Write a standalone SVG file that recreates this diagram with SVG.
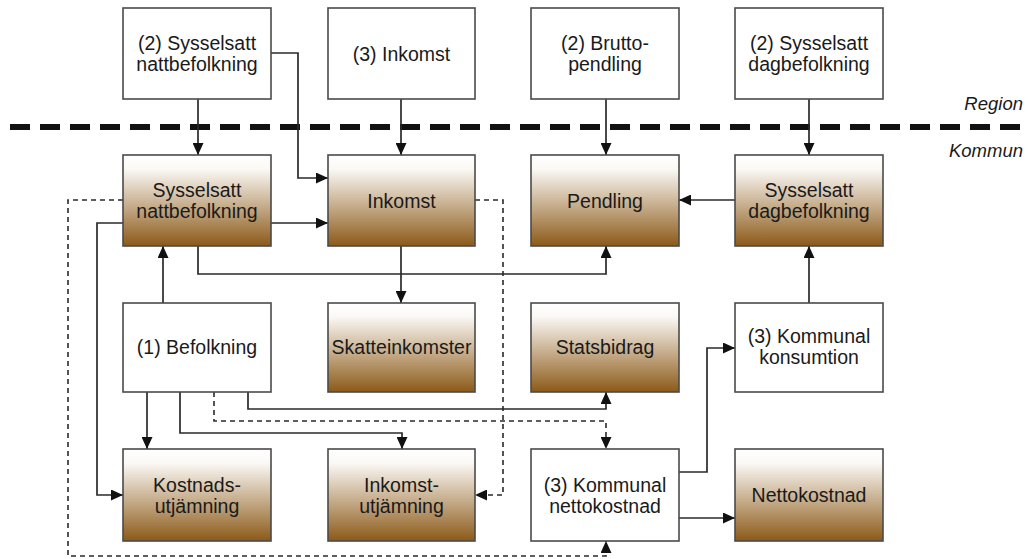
<svg xmlns="http://www.w3.org/2000/svg" width="1030" height="559" viewBox="0 0 1030 559">
  <style>
    .box { stroke: #4a4a4a; stroke-width: 1.6; }
    .plain { fill: #ffffff; }
    .shaded { fill: url(#brown); }
    .lbl { font-family: "Liberation Sans", Arial, sans-serif; font-size: 19.5px; fill: #1a1a1a; text-anchor: middle; }
    .zone { font-family: "Liberation Sans", Arial, sans-serif; font-size: 18.5px; font-style: italic; fill: #1a1a1a; text-anchor: end; }
    .link { fill: none; stroke: #2a2a2a; stroke-width: 1.7; marker-end: url(#head); }
    .dash { fill: none; stroke: #2a2a2a; stroke-width: 1.6; stroke-dasharray: 5 4; }
    .dash.arr { marker-end: url(#head); }
  </style>
  <defs>
    <linearGradient id="brown" x1="0" y1="0" x2="0" y2="1">
      <stop offset="0" stop-color="#ffffff"/>
      <stop offset="0.15" stop-color="#fbf9f6"/>
      <stop offset="1" stop-color="#8c5a19"/>
    </linearGradient>
    <marker id="head" markerUnits="userSpaceOnUse" markerWidth="13" markerHeight="11" refX="12" refY="5.5" orient="auto">
      <path d="M0,0 L12,5.5 L0,11 z" fill="#111"/>
    </marker>
  </defs>

  <rect width="1030" height="559" fill="#ffffff"/>

  <!-- boundary between regional and municipal level -->
  <line x1="10" y1="127" x2="1030" y2="127" stroke="#111" stroke-width="6" stroke-dasharray="20 10"/>
  <text class="zone" x="1023" y="110">Region</text>
  <text class="zone" x="1023" y="157">Kommun</text>

  <g id="connectors">
    <path class="link" d="M198,99 V155"/>
    <path class="link" d="M271,53 H298 V178 H328"/>
    <path class="link" d="M401,99 V155"/>
    <path class="link" d="M606,99 V155"/>
    <path class="link" d="M809,99 V155"/>
    <path class="link" d="M735,200 H679"/>
    <path class="link" d="M271,223 H328"/>
    <path class="link" d="M198,246 V274 H606 V246"/>
    <path class="link" d="M401,246 V303"/>
    <path class="link" d="M809,303 V246"/>
    <path class="link" d="M163,303 V246"/>
    <path class="link" d="M123,223 H97 V495 H123"/>
    <path class="link" d="M147,392 V449"/>
    <path class="link" d="M180,392 V433 H402 V449"/>
    <path class="link" d="M248,392 V409 H606 V392"/>
    <path class="link" d="M679,472 H707 V348 H735"/>
    <path class="link" d="M679,518 H735"/>
    <path class="dash arr" d="M214,392 V421 H606 V449"/>
    <path class="dash arr" d="M123,200 H68 V556 H606 V541"/>
    <path class="dash arr" d="M475,200 H503 V495 H475"/>
  </g>

  <!-- regional inputs -->
  <g id="r-natt">
    <rect class="box plain" x="123" y="8" width="148" height="91"/>
    <text class="lbl" x="197" y="50">(2) Sysselsatt</text>
    <text class="lbl" x="197" y="71">nattbefolkning</text>
  </g>
  <g id="r-inkomst">
    <rect class="box plain" x="328" y="8" width="147" height="91"/>
    <text class="lbl" x="401.5" y="61">(3) Inkomst</text>
  </g>
  <g id="r-brutto">
    <rect class="box plain" x="531" y="8" width="148" height="91"/>
    <text class="lbl" x="605" y="50">(2) Brutto-</text>
    <text class="lbl" x="605" y="71">pendling</text>
  </g>
  <g id="r-dag">
    <rect class="box plain" x="735" y="8" width="148" height="91"/>
    <text class="lbl" x="809" y="50">(2) Sysselsatt</text>
    <text class="lbl" x="809" y="71">dagbefolkning</text>
  </g>

  <!-- municipal level -->
  <g id="k-natt">
    <rect class="box shaded" x="123" y="155" width="148" height="91"/>
    <text class="lbl" x="197" y="197">Sysselsatt</text>
    <text class="lbl" x="197" y="218">nattbefolkning</text>
  </g>
  <g id="k-inkomst">
    <rect class="box shaded" x="328" y="155" width="147" height="91"/>
    <text class="lbl" x="401.5" y="208">Inkomst</text>
  </g>
  <g id="k-pendling">
    <rect class="box shaded" x="531" y="155" width="148" height="91"/>
    <text class="lbl" x="605" y="208">Pendling</text>
  </g>
  <g id="k-dag">
    <rect class="box shaded" x="735" y="155" width="148" height="91"/>
    <text class="lbl" x="809" y="197">Sysselsatt</text>
    <text class="lbl" x="809" y="218">dagbefolkning</text>
  </g>

  <g id="befolkning">
    <rect class="box plain" x="123" y="303" width="148" height="89"/>
    <text class="lbl" x="197" y="354">(1) Befolkning</text>
  </g>
  <g id="skatt">
    <rect class="box shaded" x="328" y="303" width="147" height="89"/>
    <text class="lbl" x="401.5" y="354">Skatteinkomster</text>
  </g>
  <g id="statsbidrag">
    <rect class="box shaded" x="531" y="303" width="148" height="89"/>
    <text class="lbl" x="605" y="354">Statsbidrag</text>
  </g>
  <g id="konsumtion">
    <rect class="box plain" x="735" y="303" width="148" height="89"/>
    <text class="lbl" x="809" y="343">(3) Kommunal</text>
    <text class="lbl" x="809" y="364">konsumtion</text>
  </g>

  <g id="kostnadsutj">
    <rect class="box shaded" x="123" y="449" width="148" height="92"/>
    <text class="lbl" x="197" y="492">Kostnads-</text>
    <text class="lbl" x="197" y="513">utjämning</text>
  </g>
  <g id="inkomstutj">
    <rect class="box shaded" x="328" y="449" width="147" height="92"/>
    <text class="lbl" x="401.5" y="492">Inkomst-</text>
    <text class="lbl" x="401.5" y="513">utjämning</text>
  </g>
  <g id="k-netto">
    <rect class="box plain" x="531" y="449" width="148" height="92"/>
    <text class="lbl" x="605" y="492">(3) Kommunal</text>
    <text class="lbl" x="605" y="513">nettokostnad</text>
  </g>
  <g id="nettokostnad">
    <rect class="box shaded" x="735" y="449" width="148" height="92"/>
    <text class="lbl" x="809" y="502">Nettokostnad</text>
  </g>
</svg>
